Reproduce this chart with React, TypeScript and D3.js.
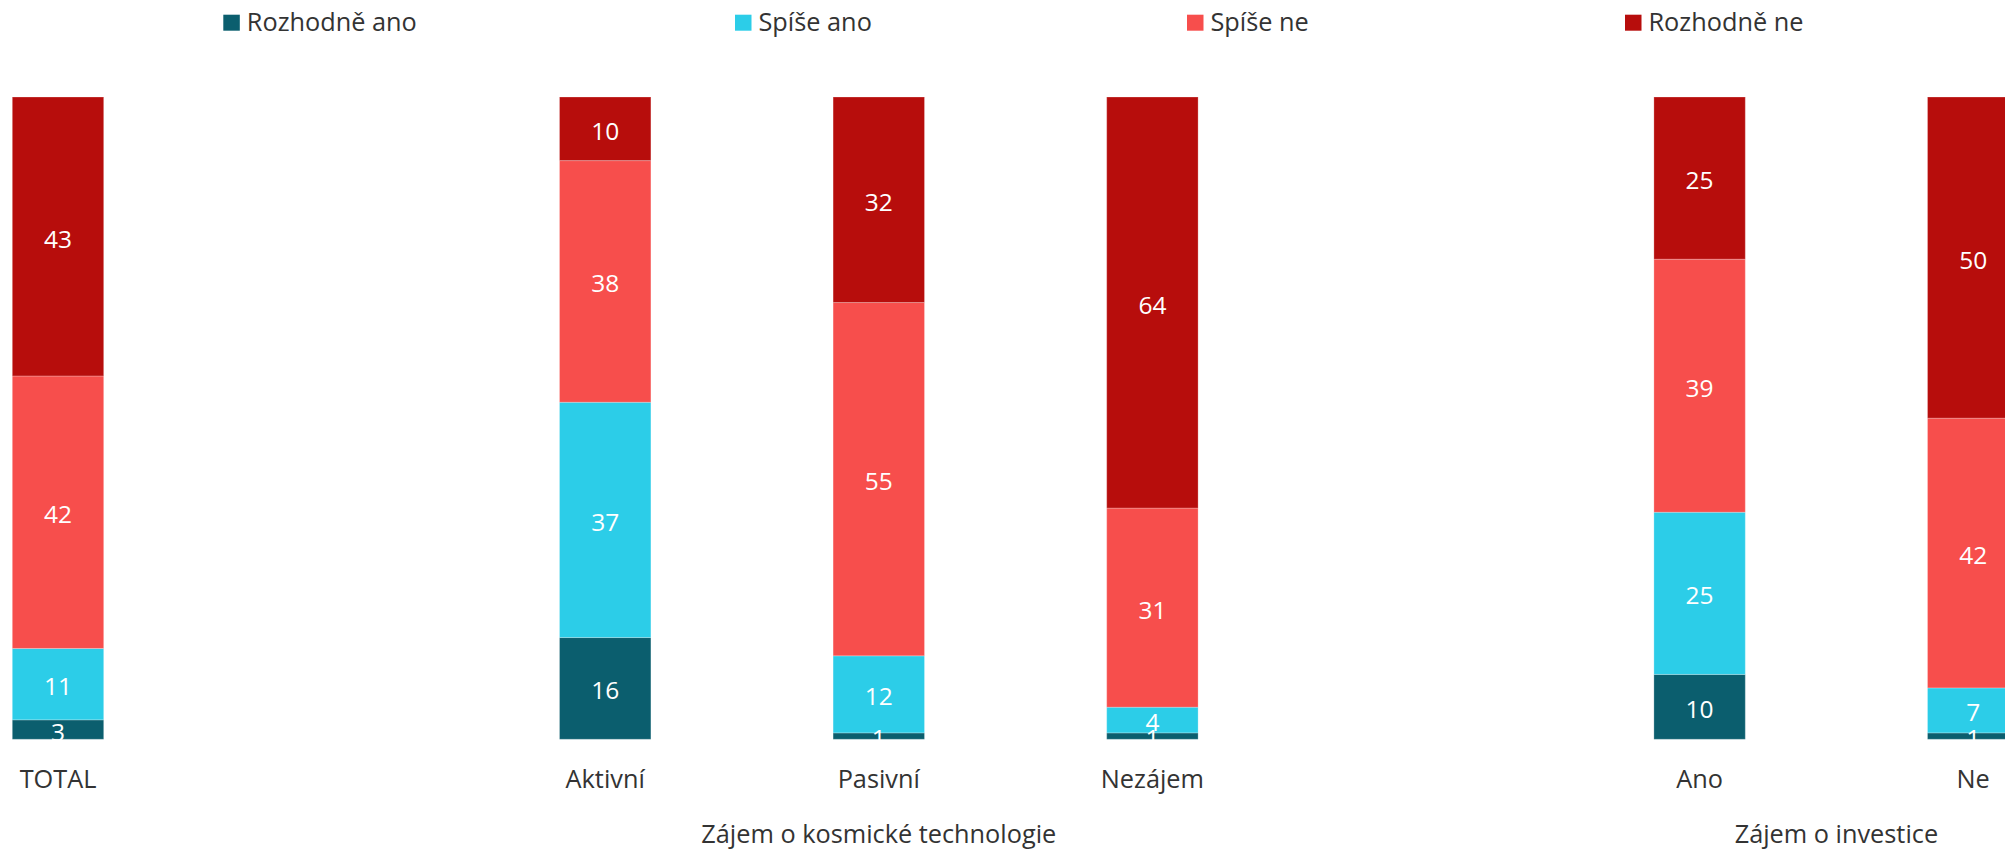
import React from "react";
import * as d3 from "d3";

const series = ["Rozhodně ano", "Spíše ano", "Spíše ne", "Rozhodně ne"];
const colors = ["#0B5E6E", "#2CCDE8", "#F74E4C", "#B70D0C"];

const categories = ["TOTAL", "Aktivní", "Pasivní", "Nezájem", "Ano", "Ne"];
const rozhodneAno = [3, 16, 1, 1, 10, 1];
const spiseAno = [11, 37, 12, 4, 25, 7];
const spiseNe = [42, 38, 55, 31, 39, 42];
const rozhodneNe = [43, 10, 32, 64, 25, 50];

const groups = [
  { name: "", cats: ["TOTAL"] },
  { name: "Zájem o kosmické technologie", cats: ["Aktivní", "Pasivní", "Nezájem"] },
  { name: "Zájem o investice", cats: ["Ano", "Ne"] },
];

const W = 2005;
const H = 850;
const FONT = "'Segoe UI', 'Open Sans', 'Noto Sans', sans-serif";
const TEXT = "#333333";

export default function App() {
  const rows = categories.map((c, i) => ({
    cat: c,
    [series[0]]: rozhodneAno[i],
    [series[1]]: spiseAno[i],
    [series[2]]: spiseNe[i],
    [series[3]]: rozhodneNe[i],
  }));
  const stack = d3.stack<any>().keys(series).offset(d3.stackOffsetExpand);
  const layers = stack(rows);

  // slots with a gap between groups
  const slots: string[] = [];
  groups.forEach((g, gi) => {
    if (gi > 0) slots.push("__gap" + gi);
    g.cats.forEach((c) => slots.push(c));
  });
  const step = 273.6;
  const x0 = -78.8;
  const x = d3.scaleBand<string>().domain(slots).range([x0, x0 + step * slots.length]).padding(0);
  const barW = 91.4;
  const cx = (c: string) => (x(c) as number) + x.bandwidth() / 2;

  const y = d3.scaleLinear().domain([0, 1]).range([739.3, 97]);

  const legendX = [223.3, 735, 1187, 1625];

  return (
    <svg width={W} height={H} style={{ position: "absolute", left: 0, top: 0, display: "block", background: "#fff" }} fontFamily={FONT}>
      <rect x={0} y={0} width={W} height={H} fill="#fff" />
      {/* legend */}
      {series.map((s, i) => (
        <g key={s} transform={`translate(${legendX[i]},0)`}>
          <rect x={0} y={14.7} width={16.5} height={16} fill={colors[i]} />
          <text x={23.5} y={31} fontSize={25.3} fill={TEXT}>
            {s}
          </text>
        </g>
      ))}
      {/* bars */}
      {layers.map((layer, li) => (
        <g key={layer.key}>
          {layer.map((d, i) => {
            const c = categories[i];
            const top = y(d[1]);
            const bot = y(d[0]);
            return (
              <rect
                key={c}
                x={cx(c) - barW / 2}
                y={top}
                width={barW}
                height={bot - top}
                fill={colors[li]}
                stroke="#ffffff"
                strokeOpacity={0.25}
                strokeWidth={1}
              />
            );
          })}
        </g>
      ))}
      {/* value labels */}
      {layers.map((layer, li) => (
        <g key={"l" + layer.key}>
          {layer.map((d, i) => {
            const c = categories[i];
            const mid = (y(d[0]) + y(d[1])) / 2;
            const v = (d.data as any)[layer.key];
            return (
              <text
                key={c}
                x={cx(c)}
                y={mid}
                dy="0.45em"
                textAnchor="middle"
                fontSize={24.5}
                fill="#ffffff"
              >
                {v}
              </text>
            );
          })}
        </g>
      ))}
      {/* category labels */}
      {categories.map((c) => (
        <text key={c} x={cx(c)} y={788} textAnchor="middle" fontSize={25.3} fill={TEXT}>
          {c}
        </text>
      ))}
      {/* group labels */}
      {groups.map((g) =>
        g.name ? (
          <text
            key={g.name}
            x={(cx(g.cats[0]) + cx(g.cats[g.cats.length - 1])) / 2}
            y={843}
            textAnchor="middle"
            fontSize={25.3}
            fill={TEXT}
          >
            {g.name}
          </text>
        ) : null
      )}
    </svg>
  );
}
